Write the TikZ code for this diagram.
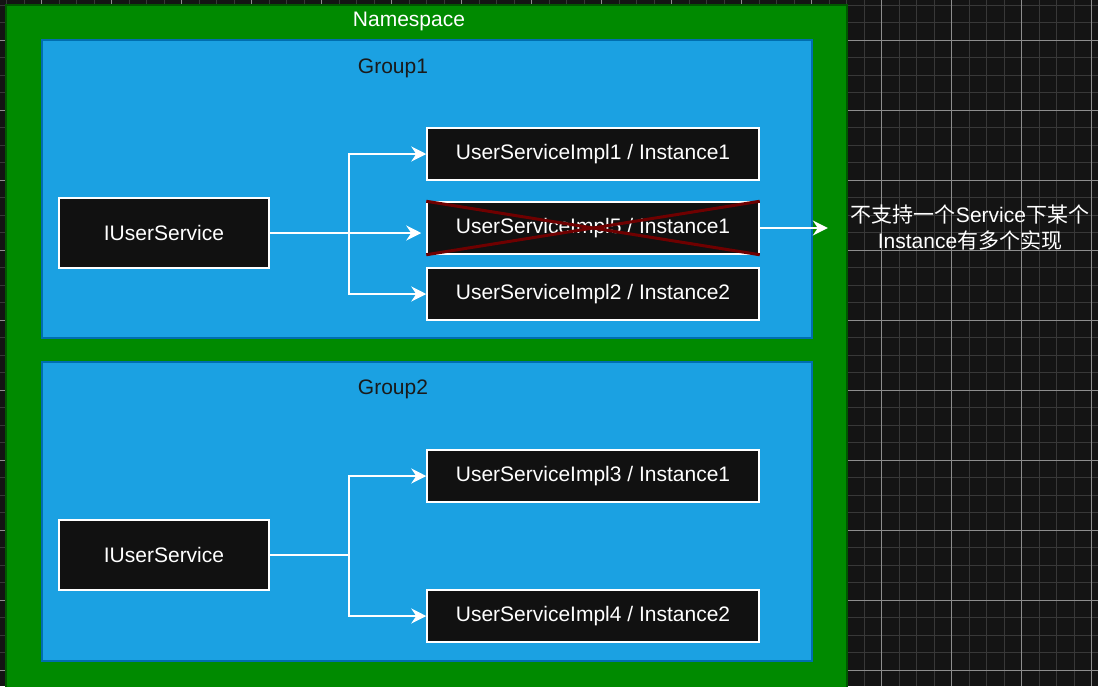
\documentclass[tikz,border=0pt]{standalone}
\usepackage{fontspec}
\setmainfont{Liberation Sans}
\newfontfamily\cjk{Noto Sans CJK SC}
\usetikzlibrary{arrows.meta,positioning}
\definecolor{gridBg}{HTML}{141414}
\definecolor{gridMinor}{HTML}{383838}
\definecolor{gridMajor}{HTML}{8E8E8E}
\definecolor{nsGreen}{HTML}{008A00}
\definecolor{nsEdge}{HTML}{005700}
\definecolor{grpBlue}{HTML}{1BA1E2}
\definecolor{grpEdge}{HTML}{006EAF}
\definecolor{boxInk}{HTML}{111111}
\definecolor{crossRed}{HTML}{6F0000}
\definecolor{labelInk}{HTML}{1A1A1A}

\tikzset{
  implbox/.style={draw=white,line width=1.5pt,fill=boxInk,text=white,
    minimum width=332pt,minimum height=52pt,inner sep=0pt,
    font=\fontsize{21}{24}\selectfont},
  ifacebox/.style={implbox,minimum width=210pt,minimum height=70pt},
  link/.style={draw=white,line width=1.5pt,
    -{Stealth[length=15pt,width=15pt,inset=5pt]}},
  grplabel/.style={text=labelInk,inner sep=0pt,font=\fontsize{21}{24}\selectfont},
}

\begin{document}
\begin{tikzpicture}[x=1pt,y=-1pt]
  \useasboundingbox (0,0) rectangle (1098,686);
  \clip (0,0) rectangle (1098,686);
  % canvas grid
  \fill[gridBg] (0,0) rectangle (1098,686);
  \foreach \gx in {6.7,24.2,...,1100}
    \draw[gridMinor,line width=1pt] (\gx,0) -- (\gx,686);
  \foreach \gy in {5,22.5,...,690}
    \draw[gridMinor,line width=1pt] (0,\gy) -- (1098,\gy);
  \foreach \gx in {41.7,111.7,...,1100}
    \draw[gridMajor,line width=0.9pt] (\gx,0) -- (\gx,686);
  \foreach \gy in {40,110,...,690}
    \draw[gridMajor,line width=0.9pt] (0,\gy) -- (1098,\gy);

  % containers
  \draw[nsEdge,fill=nsGreen,line width=2pt] (6,5) rectangle (847,700);
  \node[text=white,inner sep=0pt,font=\fontsize{21}{24}\selectfont] (nslabel) at (409,21) {Namespace};
  \draw[grpEdge,fill=grpBlue,line width=1.5pt] (42,40) rectangle (812,338);
  \draw[grpEdge,fill=grpBlue,line width=1.5pt] (42,362) rectangle (812,661);
  \node[grplabel] (g1label) at (393,68) {Group1};
  \node[grplabel] (g2label) at (393,389) {Group2};

  % group 1
  \node[ifacebox] (svc1) at (164,233) {IUserService};
  \node[implbox] (impl1) at (593,154) {UserServiceImpl1 / Instance1};
  \node[implbox] (impl5) at (593,228) {UserServiceImpl5 / Instance1};
  \node[implbox] (impl2) at (593,294) {UserServiceImpl2 / Instance2};
  \draw[link] (svc1.east) -- ++(79,0) |- (impl1.west);
  \draw[link,shorten >=5pt] (svc1.east) -- (impl5.west |- svc1.east);
  \draw[link] (svc1.east) -- ++(79,0) |- (impl2.west);
  \draw[crossRed,line width=3pt] (impl5.north west) -- (impl5.south east)
        (impl5.south west) -- (impl5.north east);

  % group 2
  \node[ifacebox] (svc2) at (164,555) {IUserService};
  \node[implbox] (impl3) at (593,476) {UserServiceImpl3 / Instance1};
  \node[implbox] (impl4) at (593,616) {UserServiceImpl4 / Instance2};
  \draw[link] (svc2.east) -- ++(79,0) |- (impl3.west);
  \draw[link] (svc2.east) -- ++(79,0) |- (impl4.west);

  % note
  \node[text=white,align=center,inner ysep=0pt,inner xsep=23pt,
        font=\fontsize{21}{26}\selectfont] (note) at (970,228)
        {{\cjk 不支持一个}Service{\cjk 下某个}\\Instance{\cjk 有多个实现}};
  \draw[link] (impl5.east) -- (impl5.east -| note.west);
\end{tikzpicture}
\end{document}
